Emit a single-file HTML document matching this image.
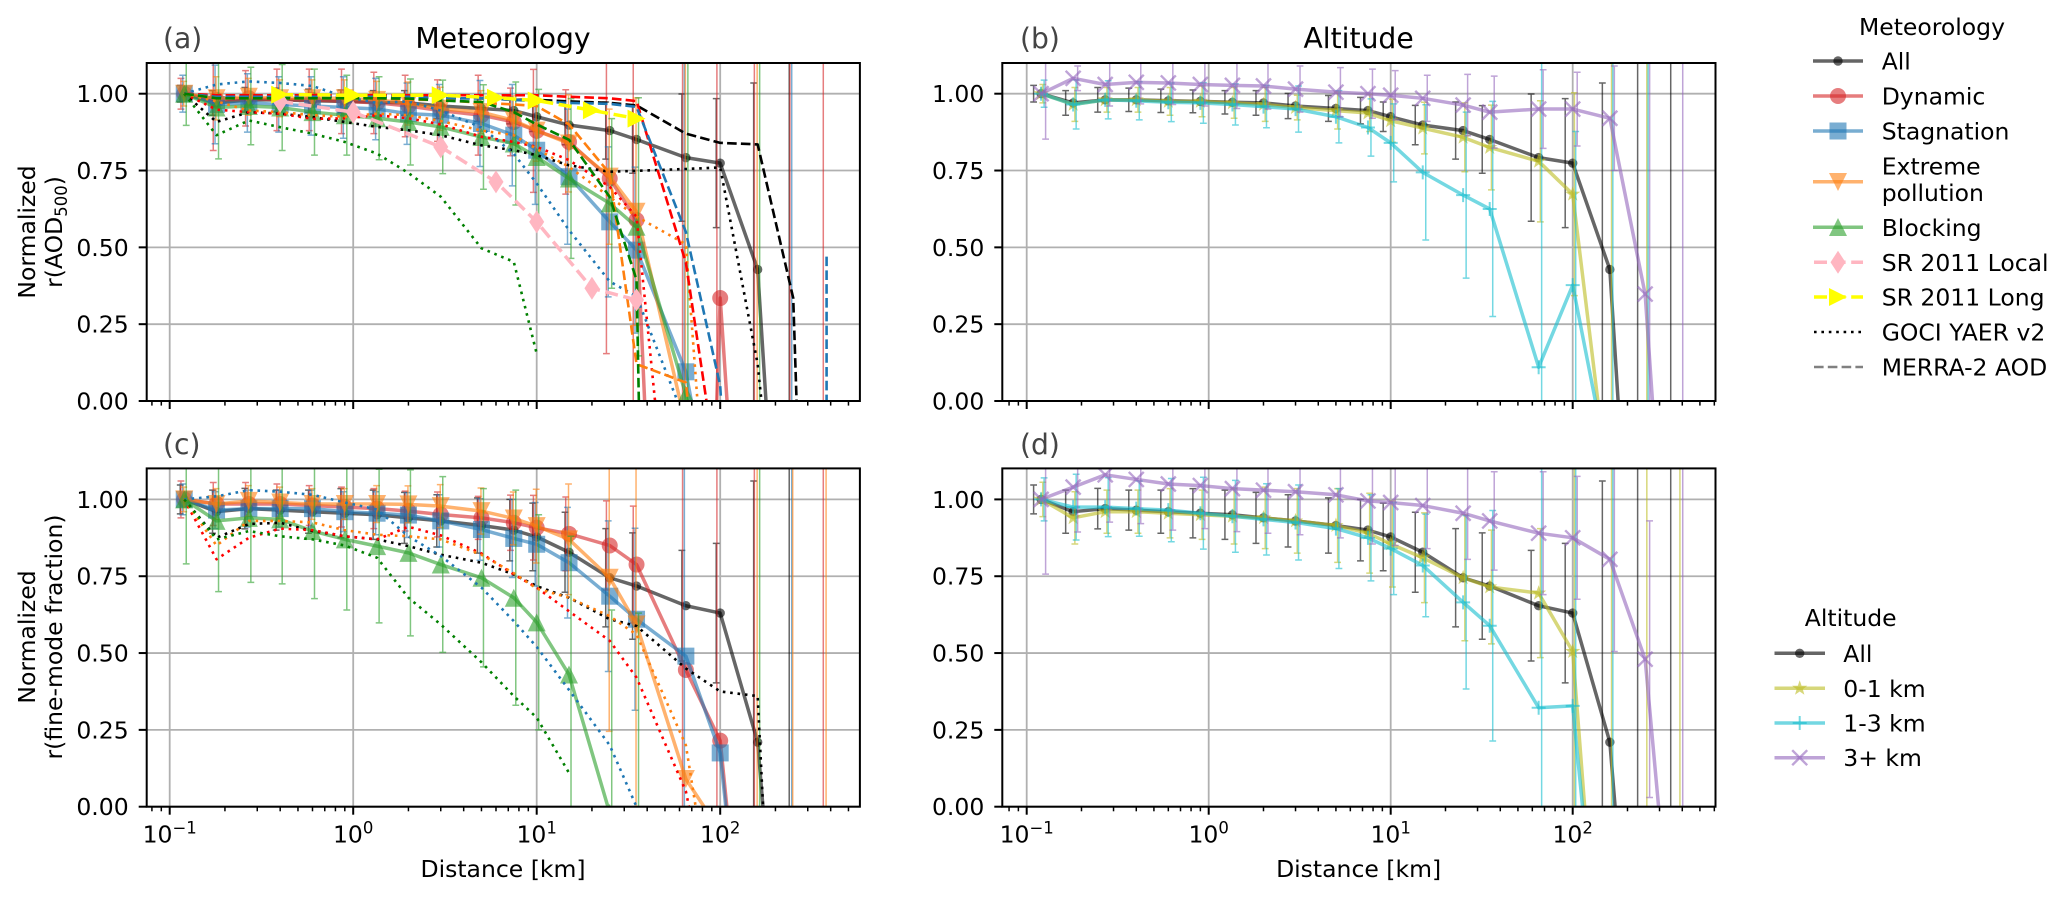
<!DOCTYPE html>
<html lang="en">
<head>
<meta charset="utf-8">
<title>Normalized correlation versus distance</title>
<style>
html,body{margin:0;padding:0;background:#fff;width:2067px;height:898px;overflow:hidden;}
svg{display:block;font-family:"DejaVu Sans","Liberation Sans",sans-serif;}
</style>
</head>
<body>
<svg id="chart" xmlns="http://www.w3.org/2000/svg" width="2067" height="898" viewBox="0 0 2067 898">
  <rect x="0" y="0" width="2067" height="898" fill="#fff"/>
  <g id="panels"></g>

  <text x="163" y="48" font-size="28.2" fill="#444">(a)</text>
  <text x="1020" y="48" font-size="28.2" fill="#444">(b)</text>
  <text x="163" y="454" font-size="28.2" fill="#444">(c)</text>
  <text x="1020" y="454" font-size="28.2" fill="#444">(d)</text>
  <text x="503" y="48" font-size="28.2" text-anchor="middle" fill="#000">Meteorology</text>
  <text x="1358.6" y="48" font-size="28.2" text-anchor="middle" fill="#000">Altitude</text>

  <text transform="translate(35,232) rotate(-90)" font-size="23.5" text-anchor="middle">Normalized</text>
  <text transform="translate(62,232) rotate(-90)" font-size="23.5" text-anchor="middle">r(AOD<tspan font-size="16.5" dy="5">500</tspan><tspan dy="-5">)</tspan></text>
  <text transform="translate(35,637) rotate(-90)" font-size="23.5" text-anchor="middle">Normalized</text>
  <text transform="translate(62,637) rotate(-90)" font-size="23.5" text-anchor="middle">r(fine-mode fraction)</text>
  <text x="503" y="877" font-size="23.5" text-anchor="middle">Distance [km]</text>
  <text x="1358.6" y="877" font-size="23.5" text-anchor="middle">Distance [km]</text>

  <g font-size="23.5">
    <text x="1932" y="35" text-anchor="middle">Meteorology</text>

    <g>
      <line x1="1813" y1="61" x2="1863" y2="61" stroke="#000" stroke-width="3.5" opacity=".6"/>
      <circle cx="1838" cy="61" r="4.7" fill="#000" opacity=".6"/>
      <text x="1881.7" y="69.5">All</text>
    </g>
    <g>
      <line x1="1813" y1="96" x2="1863" y2="96" stroke="#d62728" stroke-width="3.5" opacity=".6"/>
      <circle cx="1838" cy="96" r="8" fill="#d62728" opacity=".6"/>
      <text x="1881.7" y="104.5">Dynamic</text>
    </g>
    <g>
      <line x1="1813" y1="131" x2="1863" y2="131" stroke="#1f77b4" stroke-width="3.5" opacity=".6"/>
      <rect x="1829.5" y="122.5" width="17" height="17" fill="#1f77b4" opacity=".6"/>
      <text x="1881.7" y="139.5">Stagnation</text>
    </g>
    <g>
      <line x1="1813" y1="181.7" x2="1863" y2="181.7" stroke="#ff7f0e" stroke-width="3.5" opacity=".6"/>
      <polygon points="1829,173 1847,173 1838,191" fill="#ff7f0e" opacity=".6"/>
      <text x="1881.7" y="174.5">Extreme</text>
      <text x="1881.7" y="201">pollution</text>
    </g>
    <g>
      <line x1="1813" y1="227.3" x2="1863" y2="227.3" stroke="#2ca02c" stroke-width="3.5" opacity=".6"/>
      <polygon points="1829,236 1847,236 1838,218" fill="#2ca02c" opacity=".6"/>
      <text x="1881.7" y="235.8">Blocking</text>
    </g>
    <g>
      <line x1="1814" y1="262.3" x2="1863" y2="262.3" stroke="#ffb6c1" stroke-width="3.5" stroke-dasharray="13 5.6"/>
      <polygon points="1838,250.8 1845.5,262.3 1838,273.8 1830.5,262.3" fill="#ffb6c1"/>
      <text x="1881.7" y="270.8">SR 2011 Local</text>
    </g>
    <g>
      <line x1="1814" y1="297" x2="1863" y2="297" stroke="#ffff00" stroke-width="3.5" stroke-dasharray="13 5.6"/>
      <polygon points="1829,288 1847,297 1829,306" fill="#ffff00"/>
      <text x="1881.7" y="305.5">SR 2011 Long</text>
    </g>
    <g>
      <line x1="1814" y1="332" x2="1863" y2="332" stroke="#000" stroke-width="2.6" stroke-dasharray="2.6 4.8"/>
      <text x="1881.7" y="340.5">GOCI YAER v2</text>
    </g>
    <g>
      <line x1="1814" y1="367" x2="1863" y2="367" stroke="#808080" stroke-width="2.6" stroke-dasharray="9.6 4.2"/>
      <text x="1881.7" y="375.5">MERRA-2 AOD</text>
    </g>
  </g>

  <g font-size="23.5">
    <text x="1850.7" y="626" text-anchor="middle">Altitude</text>

    <g>
      <line x1="1774.5" y1="653.3" x2="1825" y2="653.3" stroke="#000" stroke-width="3.5" opacity=".6"/>
      <circle cx="1799.7" cy="653.3" r="4.7" fill="#000" opacity=".6"/>
      <text x="1843.3" y="661.8">All</text>
    </g>
    <g>
      <line x1="1774.5" y1="688.3" x2="1825" y2="688.3" stroke="#bcbd22" stroke-width="3.5" opacity=".6"/>
      <polygon points="1799.7,680.3 1801.6,685.7 1807.3,685.8 1802.8,689.3 1804.4,694.8 1799.7,691.5 1795,694.8 1796.6,689.3 1792.1,685.8 1797.8,685.7" fill="#bcbd22" opacity=".6"/>
      <text x="1843.3" y="696.8">0-1 km</text>
    </g>
    <g>
      <line x1="1774.5" y1="723" x2="1825" y2="723" stroke="#17becf" stroke-width="3.5" opacity=".6"/>
      <path d="M1792.7 723H1806.7M1799.7 716V730" stroke="#17becf" stroke-width="2" opacity=".6" fill="none"/>
      <text x="1843.3" y="731.5">1-3 km</text>
    </g>
    <g>
      <line x1="1774.5" y1="757.7" x2="1825" y2="757.7" stroke="#9467bd" stroke-width="3.5" opacity=".6"/>
      <path d="M1792.2 750.2L1807.2 765.2M1792.2 765.2L1807.2 750.2" stroke="#9467bd" stroke-width="2.4" opacity=".6" fill="none"/>
      <text x="1843.3" y="766.2">3+ km</text>
    </g>
  </g>
</svg>

<script>
/* ---------- shared categories (km) ---------- */
const distances  = [0.12,0.18,0.27,0.4,0.6,0.9,1.35,2,3,5,7.5,10,15,25,35,65,100,160,250,380];
const srDistances = [0.4,1,3,6,10,20,35];
const farDistances = [380,380];
const yTickValues = [0,0.25,0.5,0.75,1];
const yTickLabels = ['0.00','0.25','0.50','0.75','1.00'];
const xDecades = [-1,0,1,2];
const xDecadeLabels = ['\u22121','0','1','2'];

/* ---------- all-sample series ---------- */
const allAod     = [1,.97,.98,.98,.977,.975,.972,.97,.96,.952,.945,.925,.898,.88,.851,.792,.774,.428,-1.4,-3];
const allAodErr  = [.027,.04,.04,.038,.038,.037,.038,.04,.041,.042,.043,.048,.064,.093,.11,.207,.21,.607,5,5];
const allAodErrA = [.027,.04,.04,.038,.038,.037,.038,.04,.041,.042,.043,.048,.064,.093,.11,.207,.21,.607,5,null];
const allFine    = [1,.96,.97,.965,.96,.955,.95,.94,.93,.915,.9,.878,.828,.745,.718,.654,.63,.21,-1.2,-3];
const allFineErr = [.047,.07,.066,.065,.07,.08,.08,.083,.085,.09,.1,.11,.13,.16,.173,.18,.227,.85,5,5];
const allFineErrC= [.047,.07,.066,.065,.07,.08,.08,.083,.085,.09,.1,.11,.13,.16,.173,.18,.227,.85,5,null];

/* ---------- panel (a) meteorology, AOD ---------- */
const dynAod      = [1,.98,.985,.98,.98,.975,.97,.96,.945,.93,.908,.879,.843,.724,.589,-3,.335,-1.5,-3,-3];
const dynAodErr   = [.05,.165,.09,.1,.1,.105,.1,.1,.1,.13,.11,.2,.17,.57,1.2,5,5,5,5,5];
const stagAod     = [1,.965,.97,.965,.96,.955,.95,.935,.93,.903,.865,.816,.73,.583,.491,.095,-.5,-2,-3,null];
const stagAodErr  = [.06,.128,.095,.09,.095,.1,.1,.1,.1,.14,.165,.176,.22,.244,.27,1.2,null,null,5,null];
const extAod      = [1,.985,.99,.985,.985,.985,.98,.968,.951,.94,.913,.88,.838,.73,.616,-.08,-1,-2,null,null];
const extAodErr   = [.04,.07,.06,.06,.06,.06,.06,.07,.07,.07,.08,.1,.158,.22,.37,5,null,5,null,null];
const blockAod    = [1,.955,.96,.955,.94,.93,.92,.908,.892,.859,.838,.794,.724,.643,.567,.02,-.4,-2,null,null];
const blockAodErr = [.103,.167,.126,.14,.14,.13,.135,.14,.152,.17,.2,.22,.26,.276,.42,1.2,null,5,null,null];
const srLocal     = [.975,.94,.827,.713,.583,.367,.329];
const srLong      = [.997,.995,.995,.987,.978,.946,.919];
const gociAllAod  = [1,.908,.94,.935,.924,.908,.892,.881,.865,.832,.816,.8,.767,.746,.749,.755,.76,.12,-1,null];
const gociDynAod  = [1,.948,.94,.935,.918,.92,.93,.92,.9,.86,.843,.827,.784,.697,.6,-1,null,null,null,null];
const gociStagAod = [1,1.03,1.04,1.035,1.025,.99,.97,.975,.945,.89,.805,.708,.556,.389,.34,-.07,-1,null,null,null];
const gociExtAod  = [1,.975,.945,.94,.93,.925,.935,.93,.911,.88,.865,.82,.762,.664,.6,.51,-1,null,null,null];
const gociBlockAod= [1,.865,.913,.891,.87,.843,.805,.742,.665,.497,.453,.154,null,null,null,null,null,null,null,null];
const merraAllAod = [1,.99,.99,.99,.99,.99,.99,.99,.985,.985,.98,.98,.975,.97,.962,.87,.84,.835,.335,-3];
const merraDynAod = [1,.995,.995,.995,.995,.995,.995,.995,.995,.995,.995,.995,.99,.985,.976,.45,-.3,-2,null,null];
const merraStagAod= [1,.99,.99,.99,.99,.99,.99,.99,.985,.985,.98,.975,.97,.967,.957,.55,.05,-2,null,null];
const merraExtAod = [1,.985,.985,.985,.985,.985,.985,.98,.98,.97,.965,.96,.9,.74,.12,.06,-1,null,null,null];
const merraBlockAod=[1,.985,.985,.985,.985,.985,.985,.984,.978,.973,.94,.9,.85,.664,.394,-8,null,null,null,null];
const merraStagFar= [.47,-.2];

/* ---------- panel (c) meteorology, fine-mode fraction ---------- */
const dynFine      = [1,.985,.985,.985,.98,.975,.97,.962,.951,.94,.924,.908,.888,.85,.788,.445,.215,-1,-2,-3];
const dynFineErr   = [.06,.07,.07,.065,.065,.065,.065,.065,.073,.07,.09,.105,.12,.145,.19,.9,1,5,null,5];
const stagFine     = [1,.965,.97,.97,.97,.96,.955,.949,.93,.902,.873,.854,.794,.685,.61,.49,.175,-1,-2,null];
const stagFineErr  = [.05,.06,.06,.06,.06,.065,.07,.073,.085,.1,.127,.136,.18,.245,.296,.9,null,null,5,null];
const extFine      = [1,.985,.995,.99,.985,.985,.985,.984,.978,.962,.938,.913,.87,.745,.593,.09,-.08,-1,-2,-3];
const extFineErr   = [.04,.05,.05,.05,.05,.05,.06,.06,.07,.075,.086,.12,.18,.5,.7,null,null,5,5,5];
const blockFine    = [1,.93,.94,.935,.897,.87,.848,.826,.788,.745,.68,.6,.43,-.02,-2,-3,-3,-3,null,null];
const blockFineErr = [.21,.23,.21,.21,.22,.23,.25,.27,.286,.29,.35,.35,.45,.66,2.63,null,null,5,null,null];
const gociAllFine  = [1,.875,.92,.924,.897,.88,.87,.848,.82,.794,.756,.718,.68,.61,.588,.45,.375,.36,-2,null];
const gociDynFine  = [1,.805,.875,.905,.9,.88,.87,.911,.883,.824,.756,.713,.636,.54,.42,.05,-.5,null,null,null];
const gociStagFine = [1,1.01,1.03,1.025,1.015,.99,.967,.88,.816,.713,.604,.52,.38,.2,0,-.5,null,null,null,null];
const gociExtFine  = [1,.85,.93,.93,.925,.9,.885,.88,.87,.82,.76,.71,.68,.62,.56,.2,-.5,null,null,null];
const gociBlockFine= [1,.87,.897,.88,.87,.85,.81,.68,.593,.47,.36,.29,.11,null,null,null,null,null,null,null];

/* ---------- panels (b, d) altitude ---------- */
const lowAod      = [1,.965,.98,.98,.975,.975,.97,.965,.955,.945,.937,.912,.888,.858,.825,.78,.673,-.32,-1,null];
const lowAodErr   = [.03,.055,.04,.04,.045,.05,.05,.055,.04,.06,.06,.07,.084,.112,.138,.197,.33,5,5,null];
const midAod      = [1,.965,.98,.977,.972,.97,.965,.958,.95,.925,.89,.84,.744,.67,.625,.11,.377,-.24,-1,null];
const midAodErr   = [.044,.08,.062,.062,.063,.066,.067,.069,.075,.085,.093,.127,.22,.27,.35,1.1,.5,5,5,null];
const highAod     = [1,1.05,1.03,1.037,1.035,1.03,1.027,1.025,1.015,1.005,1,.995,.985,.963,.94,.95,.95,.92,.348,-1.22];
const highAodErr  = [.148,.04,.07,.07,.07,.07,.075,.075,.075,.08,.08,.08,.075,.1,.117,.128,.12,.17,1.2,5];
const lowFine     = [1,.94,.96,.96,.955,.95,.945,.94,.93,.915,.89,.855,.81,.745,.715,.695,.505,-1.06,-2,-3];
const lowFineErr  = [.056,.085,.07,.07,.08,.08,.09,.1,.105,.12,.13,.14,.146,.205,.185,.21,.6,5,5,5];
const midFine     = [1,.975,.975,.97,.965,.955,.945,.935,.925,.905,.875,.84,.785,.665,.589,.322,.328,-.91,-2,null];
const midFineErr  = [.07,.107,.096,.09,.103,.117,.117,.116,.122,.13,.14,.15,.167,.282,.375,.9,.8,5,null,null];
const highFine    = [1,1.04,1.08,1.065,1.05,1.045,1.035,1.03,1.025,1.015,.995,.99,.98,.955,.93,.89,.875,.805,.48,-.7];
const highFineErr = [.243,.146,.154,.144,.15,.14,.14,.14,.14,.14,.14,.14,.14,.15,.16,.2,.2,.3,.45,5];

/* ---------- styles ---------- */
const RED='#d62728',BLUE='#1f77b4',ORANGE='#ff7f0e',GREEN='#2ca02c',BLACK='#000000',
      OLIVE='#bcbd22',CYAN='#17becf',PURPLE='#9467bd',PINK='#ffb6c1',YELLOW='#ffff00';
const DOT='2.6 4.8', DASH='9.6 4.2', SRDASH='13 5.6';
const SVGNS='http://www.w3.org/2000/svg';

function solid(name,y,err,color,marker,off){return {name,x:distances,y,err,color,lw:3.5,alpha:.6,marker,off};}
function thin(name,y,color,dash){return {name,x:distances,y,err:null,color,lw:2.6,alpha:1,dash,marker:null,off:0};}
function sr(name,y,color,marker){return {name,x:srDistances,y,err:null,color,lw:3.5,alpha:1,dash:SRDASH,marker,off:0};}

const panels=[
 {id:'a',left:146.7,top:63,x0:169.7,decade:183.5,bottom:401,xLabels:false,series:[
   solid('all',allAod,allAodErrA,BLACK,'dot',-4),
   solid('dynamic',dynAod,dynAodErr,RED,'circle',-3.3),
   solid('stagnation',stagAod,stagAodErr,BLUE,'square',-1.5),
   solid('extreme',extAod,extAodErr,ORANGE,'down',-.5),
   solid('blocking',blockAod,blockAodErr,GREEN,'up',2),
   thin('goci-all',gociAllAod,BLACK,DOT),thin('goci-dynamic',gociDynAod,'#ff0000',DOT),
   thin('goci-stagnation',gociStagAod,BLUE,DOT),thin('goci-extreme',gociExtAod,ORANGE,DOT),
   thin('goci-blocking',gociBlockAod,'#008000',DOT),
   thin('merra-all',merraAllAod,BLACK,DASH),thin('merra-dynamic',merraDynAod,'#ff0000',DASH),
   thin('merra-stagnation',merraStagAod,BLUE,DASH),thin('merra-extreme',merraExtAod,ORANGE,DASH),
   thin('merra-blocking',merraBlockAod,'#008000',DASH),
   {name:'merra-stagnation-far',x:farDistances,y:merraStagFar,err:null,color:BLUE,lw:2.6,alpha:1,dash:DASH,marker:null,off:0},
   sr('sr-2011-local',srLocal,PINK,'diamond'),
   sr('sr-2011-long',srLong,YELLOW,'right')
 ]},
 {id:'b',left:1002.3,top:63,x0:1026.7,decade:182,bottom:401,xLabels:false,series:[
   solid('all',allAod,allAodErr,BLACK,'dot',-7.5),
   solid('0-1-km',lowAod,lowAodErr,OLIVE,'star',1.7),
   solid('1-3-km',midAod,midAodErr,CYAN,'plus',3),
   solid('3-plus-km',highAod,highAodErr,PURPLE,'cross',4.5)
 ]},
 {id:'c',left:146.7,top:468.4,x0:169.7,decade:183.5,bottom:806.7,xLabels:true,series:[
   solid('all',allFine,allFineErrC,BLACK,'dot',-4),
   solid('dynamic',dynFine,dynFineErr,RED,'circle',-3.3),
   solid('stagnation',stagFine,stagFineErr,BLUE,'square',-1.5),
   solid('extreme',extFine,extFineErr,ORANGE,'down',-.5),
   solid('blocking',blockFine,blockFineErr,GREEN,'up',2),
   thin('goci-all',gociAllFine,BLACK,DOT),thin('goci-dynamic',gociDynFine,'#ff0000',DOT),
   thin('goci-stagnation',gociStagFine,BLUE,DOT),thin('goci-extreme',gociExtFine,ORANGE,DOT),
   thin('goci-blocking',gociBlockFine,'#008000',DOT)
 ]},
 {id:'d',left:1002.3,top:468.4,x0:1026.7,decade:182,bottom:806.7,xLabels:true,series:[
   solid('all',allFine,allFineErr,BLACK,'dot',-7.5),
   solid('0-1-km',lowFine,lowFineErr,OLIVE,'star',1.7),
   solid('1-3-km',midFine,midFineErr,CYAN,'plus',3),
   solid('3-plus-km',highFine,highFineErr,PURPLE,'cross',4.5)
 ]}
];

const UNIT=307.3, PANEL_W=713.2;

function mk(tag,attrs,parent){
  const el=document.createElementNS(SVGNS,tag);
  for(const k in attrs){el.setAttribute(k,attrs[k]);}
  if(parent){parent.appendChild(el);}
  return el;
}

function drawMarker(kind,px,py,color,alpha,parent){
  let el;
  const fillAttrs={fill:color,opacity:alpha};
  if(kind==='dot'){el=mk('circle',Object.assign({cx:px,cy:py,r:4.7},fillAttrs),parent);}
  else if(kind==='circle'){el=mk('circle',Object.assign({cx:px,cy:py,r:8},fillAttrs),parent);}
  else if(kind==='square'){el=mk('rect',Object.assign({x:px-8.5,y:py-8.5,width:17,height:17},fillAttrs),parent);}
  else if(kind==='down'){el=mk('polygon',Object.assign({points:`${px-9},${py-9} ${px+9},${py-9} ${px},${py+9}`},fillAttrs),parent);}
  else if(kind==='up'){el=mk('polygon',Object.assign({points:`${px-9},${py+9} ${px+9},${py+9} ${px},${py-9}`},fillAttrs),parent);}
  else if(kind==='right'){el=mk('polygon',Object.assign({points:`${px-9},${py-9} ${px+9},${py} ${px-9},${py+9}`},fillAttrs),parent);}
  else if(kind==='diamond'){el=mk('polygon',Object.assign({points:`${px},${py-11.5} ${px+7.5},${py} ${px},${py+11.5} ${px-7.5},${py}`},fillAttrs),parent);}
  else if(kind==='star'){
    const pts=[];
    for(let i=0;i<10;i++){
      const r=i%2?3.2:8, a=-Math.PI/2+i*Math.PI/5;
      pts.push((px+r*Math.cos(a)).toFixed(2)+','+(py+r*Math.sin(a)).toFixed(2));
    }
    el=mk('polygon',Object.assign({points:pts.join(' ')},fillAttrs),parent);
  }
  else if(kind==='plus'){el=mk('path',{d:`M${px-7} ${py}H${px+7}M${px} ${py-7}V${py+7}`,stroke:color,'stroke-width':2,fill:'none',opacity:alpha},parent);}
  else {el=mk('path',{d:`M${px-7.5} ${py-7.5}L${px+7.5} ${py+7.5}M${px-7.5} ${py+7.5}L${px+7.5} ${py-7.5}`,stroke:color,'stroke-width':2.4,fill:'none',opacity:alpha},parent);}
  return el;
}

/* trim a segment to the vertical extent of a panel so off-scale points stay inside the frame */
function trimSegment(x1,y1,x2,y2,top,bottom){
  let t0=0,t1=1;
  const dy=y2-y1;
  if(dy===0){return (y1<top||y1>bottom)?null:[x1,y1,x2,y2];}
  const a=(top-y1)/dy, b=(bottom-y1)/dy;
  t0=Math.max(t0,Math.min(a,b));
  t1=Math.min(t1,Math.max(a,b));
  if(t0>t1){return null;}
  return [x1+(x2-x1)*t0,y1+dy*t0,x1+(x2-x1)*t1,y1+dy*t1];
}

const root=document.getElementById('panels');

panels.forEach(function(p){
  const xAxis=function(v){return p.x0+p.decade*(Math.log10(v)+1);};
  const yAxis=function(v){return p.bottom-UNIT*v;};
  const right=p.left+PANEL_W;

  const panel=mk('g',{},root);
  
  

  const clip=mk('clipPath',{id:'clip-'+p.id},panel);
  mk('rect',{x:p.left,y:p.top,width:PANEL_W,height:p.bottom-p.top},clip);

  /* grid */
  const grid=mk('g',{stroke:'#b0b0b0','stroke-width':1.8},panel);
  
  
  xDecades.forEach(function(d){
    const gx=xAxis(Math.pow(10,d));
    mk('line',{x1:gx,x2:gx,y1:p.top,y2:p.bottom},grid);
  });
  yTickValues.forEach(function(v){
    mk('line',{x1:p.left,x2:right,y1:yAxis(v),y2:yAxis(v)},grid);
  });

  /* series */
  const plot=mk('g',{'clip-path':'url(#clip-'+p.id+')'},panel);
  
  

  p.series.forEach(function(s){
    const g=mk('g',{},plot);
    
    

    if(s.err){
      s.err.forEach(function(e,i){
        if(e===null||s.y[i]===null){return;}
        const ex=xAxis(s.x[i])+s.off;
        const rawTop=yAxis(s.y[i]+e), rawBottom=yAxis(s.y[i]-e);
        if(rawBottom<p.top||rawTop>p.bottom){return;}
        const y1=Math.max(rawTop,p.top), y2=Math.min(rawBottom,p.bottom);
        let d=`M${ex} ${y1}V${y2}`;
        if(rawTop>=p.top){d+=`M${ex-3.4} ${rawTop}H${ex+3.4}`;}
        if(rawBottom<=p.bottom){d+=`M${ex-3.4} ${rawBottom}H${ex+3.4}`;}
        const bar=mk('path',{d:d,stroke:s.color,'stroke-width':1.5,fill:'none',opacity:.6},g);
        
        
      });
    }

    let d='', lastX=null, lastY=null;
    s.y.forEach(function(v,i){
      if(v===null){return;}
      const cx=xAxis(s.x[i]), cy=yAxis(v);
      if(lastX!==null){
        const seg=trimSegment(lastX,lastY,cx,cy,p.top,p.bottom);
        if(seg){
          const continues=d!==''&&Math.abs(seg[0]-lastX)<1e-6&&Math.abs(seg[1]-lastY)<1e-6;
          d+=(continues?'L':'M'+seg[0].toFixed(2)+' '+seg[1].toFixed(2)+'L')+seg[2].toFixed(2)+' '+seg[3].toFixed(2);
        }
      }
      lastX=cx; lastY=cy;
    });
    const lineAttrs={d:d,fill:'none',stroke:s.color,'stroke-width':s.lw,opacity:s.alpha,'stroke-linejoin':'round'};
    if(s.dash){lineAttrs['stroke-dasharray']=s.dash;}
    const line=mk('path',lineAttrs,g);
    
    

    if(s.marker){
      s.y.forEach(function(v,i){
        if(v===null||v<-0.03||v>1.1){return;}
        const m=drawMarker(s.marker,xAxis(s.x[i]),yAxis(v),s.color,s.alpha,g);
        
        
      });
    }
  });

  /* spines */
  const frame=mk('rect',{x:p.left,y:p.top,width:PANEL_W,height:p.bottom-p.top,fill:'none',stroke:'#000','stroke-width':2},panel);
  
  

  /* y ticks */
  const yAxisG=mk('g',{},panel);
  
  
  yTickValues.forEach(function(v,i){
    const ty=yAxis(v);
    mk('line',{x1:p.left-8,x2:p.left,y1:ty,y2:ty,stroke:'#000','stroke-width':2},yAxisG);
    const t=mk('text',{x:p.left-18,y:ty+8.5,'font-size':23.5,'text-anchor':'end',fill:'#000'},yAxisG);
    t.textContent=yTickLabels[i];
    
    
  });

  /* x ticks */
  const xAxisG=mk('g',{},panel);
  
  
  [-2,-1,0,1,2].forEach(function(d){
    for(let m=1;m<10;m++){
      const v=m*Math.pow(10,d), tx=xAxis(v);
      if(tx<p.left||tx>right){continue;}
      const major=m===1;
      mk('line',{x1:tx,x2:tx,y1:p.bottom,y2:p.bottom+(major?8:4.6),stroke:'#000','stroke-width':major?2:1.5},xAxisG);
    }
  });
  if(p.xLabels){
    xDecades.forEach(function(d,i){
      const t=mk('text',{x:xAxis(Math.pow(10,d)),y:p.bottom+36,'font-size':23.5,'text-anchor':'middle',fill:'#000'},xAxisG);
      
      
      const base=mk('tspan',{},t);
      base.textContent='10';
      const sup=mk('tspan',{dy:-9,'font-size':16.5},t);
      sup.textContent=xDecadeLabels[i];
    });
  }
});
</script>
</body>
</html>
